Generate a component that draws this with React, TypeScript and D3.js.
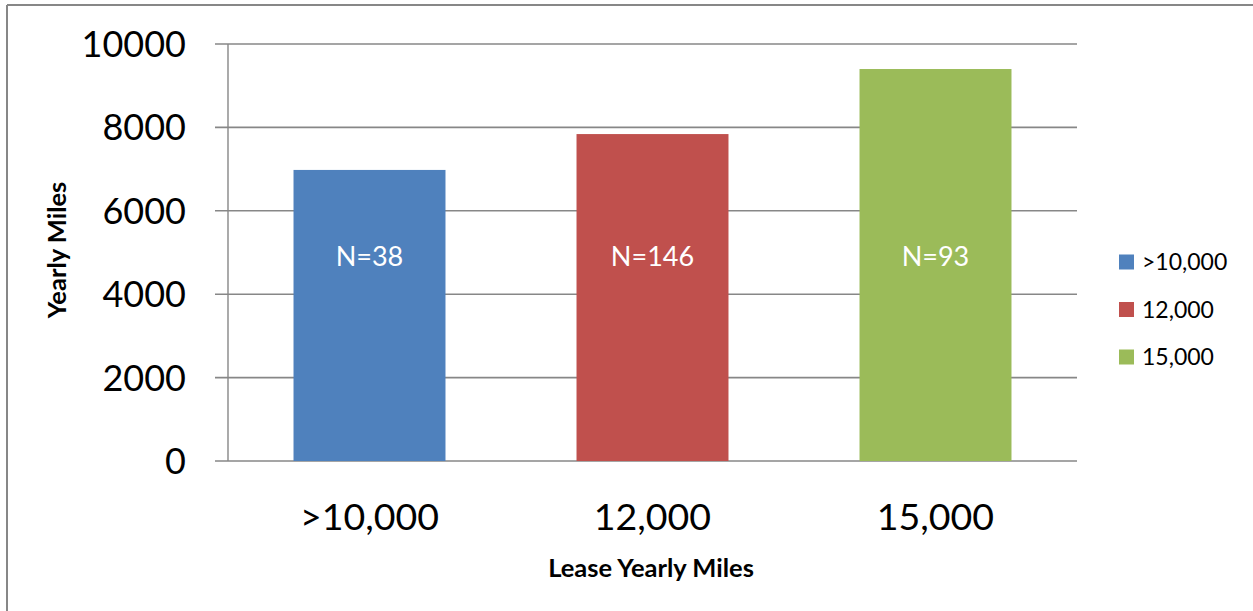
import React from "react";
import * as d3 from "d3";

// Lease mileage groups, their average yearly miles and sample sizes
const categories: string[] = [">10,000", "12,000", "15,000"];
const yearlyMiles: number[] = [6980, 7840, 9400];
const sampleLabels: string[] = ["N=38", "N=146", "N=93"];
const barColors: string[] = ["#4F81BD", "#C0504D", "#9BBB59"];
const yTicks: number[] = [0, 2000, 4000, 6000, 8000, 10000];

const W = 1253;
const H = 611;
const plot = { left: 228, right: 1077, top: 44, bottom: 461 };
const FONT = "Lato, 'Open Sans', sans-serif";
const GRID = "#878787";

export default function App() {
  const x = d3
    .scaleBand<string>()
    .domain(categories)
    .range([plot.left, plot.right])
    .paddingInner(0.463)
    .paddingOuter(0.2315);
  const y = d3.scaleLinear().domain([0, 10000]).range([plot.bottom, plot.top]);

  const legendX = 1119;
  const legendY0 = 262;
  const legendStep = 47.5;

  return (
    <svg
      width={W}
      height={H}
      style={{ position: "absolute", left: 0, top: 0, background: "#fff" }}
      fontFamily={FONT}
    >
      {/* chart area frame (left and top edges visible) */}
      <line x1={7} y1={5} x2={W + 5} y2={5} stroke={GRID} strokeWidth={2} />
      <line x1={7} y1={5} x2={7} y2={H + 5} stroke={GRID} strokeWidth={2} />

      {/* horizontal gridlines with tick marks */}
      {yTicks.map((t) => (
        <line
          key={`g${t}`}
          x1={plot.left - 13}
          x2={plot.right}
          y1={y(t)}
          y2={y(t)}
          stroke={GRID}
          strokeWidth={1.6}
        />
      ))}
      {/* value axis */}
      <line x1={plot.left} x2={plot.left} y1={plot.top} y2={plot.bottom} stroke={GRID} strokeWidth={1.4} />

      {/* y tick labels */}
      {yTicks.map((t) => (
        <text
          key={`t${t}`}
          x={186}
          y={y(t)}
          dy="0.36em"
          textAnchor="end"
          fontSize={36}
          fill="#000"
        >
          {t}
        </text>
      ))}

      {/* bars */}
      {categories.map((c, i) => (
        <rect
          key={c}
          x={x(c)}
          y={y(yearlyMiles[i])}
          width={x.bandwidth()}
          height={y(0) - y(yearlyMiles[i])}
          fill={barColors[i]}
        />
      ))}

      {/* sample size labels inside bars */}
      {categories.map((c, i) => (
        <text
          key={`n${c}`}
          x={(x(c) as number) + x.bandwidth() / 2}
          y={y(4900)}
          dy="0.36em"
          textAnchor="middle"
          fontSize={27}
          fill="#fff"
        >
          {sampleLabels[i]}
        </text>
      ))}

      {/* category labels */}
      {categories.map((c) => (
        <text
          key={`c${c}`}
          x={(x(c) as number) + x.bandwidth() / 2}
          y={530}
          textAnchor="middle"
          fontSize={37.5}
          fill="#000"
        >
          {c}
        </text>
      ))}

      {/* axis titles */}
      <text x={651} y={577} textAnchor="middle" fontSize={25.5} fontWeight="bold" fill="#000">
        Lease Yearly Miles
      </text>
      <text
        transform={`translate(66, 250) rotate(-90)`}
        textAnchor="middle"
        fontSize={25.5}
        fontWeight="bold"
        fill="#000"
      >
        Yearly Miles
      </text>

      {/* legend */}
      {categories.map((c, i) => (
        <g key={`l${c}`} transform={`translate(${legendX}, ${legendY0 + i * legendStep})`}>
          <rect x={0} y={-7.5} width={15} height={15} fill={barColors[i]} />
          <text x={23} y={0} dy="0.36em" fontSize={23} fill="#000">
            {c}
          </text>
        </g>
      ))}
    </svg>
  );
}
